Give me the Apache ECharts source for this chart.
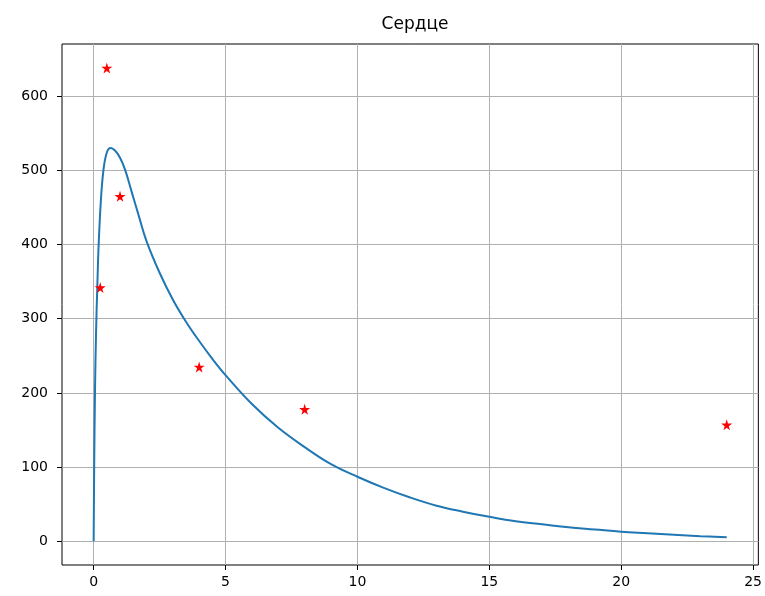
<!DOCTYPE html>
<html>
<head>
<meta charset="utf-8">
<script src="https://cdn.jsdelivr.net/npm/echarts@6/dist/echarts.min.js"></script>
<style>
  html, body { margin: 0; padding: 0; background: #fff; }
  #chart { width: 765px; height: 596px; }
</style>
</head>
<body>
<div id="chart"></div>
<script>
// measured points (time, value)
var obsTime = [0.25, 0.5, 1, 4, 8, 24];
var obsValue = [342, 638, 465, 235, 178, 157];

// fitted curve
var curveTime = [0, 0.02, 0.05, 0.09, 0.14, 0.19, 0.27, 0.37, 0.5, 0.64, 0.8, 1.0, 1.2, 1.45, 1.7, 2.0,
    2.5, 3, 3.5, 4, 4.5, 5, 6, 7, 8, 9, 10, 11, 12, 13, 14, 15, 16, 17, 18, 19, 20, 21, 22, 23, 24];
var curveValue = [0, 100, 200, 280, 345, 400, 457, 500, 524, 530, 527, 517, 500, 470, 440, 405,
    362, 326, 296, 270, 246, 224, 185, 153, 127, 104, 87, 72, 59, 48, 40, 33, 27, 23, 19, 16, 13, 11, 9, 7, 5.5];

var xTicks = [0, 5, 10, 15, 20, 25];
var yTicks = [0, 100, 200, 300, 400, 500, 600];

var starPath = 'path://M50,0 L61,35 L98,35 L68,57 L79,91 L50,70 L21,91 L32,57 L2,35 L39,35 Z';

var chart = echarts.init(document.getElementById('chart'));

var curveData = [];
for (var i = 0; i < curveTime.length; i++) {
    curveData.push([curveTime[i], curveValue[i]]);
}
var obsData = [];
for (var j = 0; j < obsTime.length; j++) {
    obsData.push([obsTime[j], obsValue[j]]);
}

var option = {
    animation: false,
    backgroundColor: '#fff',
    title: {
        text: 'Сердце',
        left: 410,
        top: 11,
        textAlign: 'center',
        textStyle: { fontFamily: 'DejaVu Sans', fontSize: 17, fontWeight: 'normal', color: '#000' }
    },
    grid: {
        left: 62, top: 44, right: 6, bottom: 31,
        show: true, borderColor: '#000', borderWidth: 1
    },
    xAxis: {
        type: 'value',
        min: -1.2,
        max: 25.2,
        axisLine: { show: false, onZero: false },
        axisTick: { show: true, inside: false, length: 5, customValues: xTicks, lineStyle: { color: '#000' } },
        axisLabel: { customValues: xTicks, margin: 10, fontFamily: 'DejaVu Sans', fontSize: 14, color: '#000' },
        splitLine: { show: true, lineStyle: { color: '#b0b0b0', width: 1 } }
    },
    yAxis: {
        type: 'value',
        min: -31.9,
        max: 670.3,
        axisLine: { show: false, onZero: false },
        axisTick: { show: true, inside: false, length: 5, customValues: yTicks, lineStyle: { color: '#000' } },
        axisLabel: { customValues: yTicks, margin: 14, fontFamily: 'DejaVu Sans', fontSize: 14, color: '#000' },
        splitLine: { show: true, lineStyle: { color: '#b0b0b0', width: 1 } }
    },
    series: [
        {
            name: 'model',
            type: 'line',
            data: curveData,
            smooth: 0.4,
            showSymbol: false,
            lineStyle: { color: '#1f77b4', width: 2 },
            z: 2
        },
        {
            name: 'data',
            type: 'scatter',
            data: obsData,
            symbol: starPath,
            symbolSize: 11,
            itemStyle: { color: '#ff0000', opacity: 1 },
            z: 3
        }
    ]
};
chart.setOption(option);
</script>
</body>
</html>
